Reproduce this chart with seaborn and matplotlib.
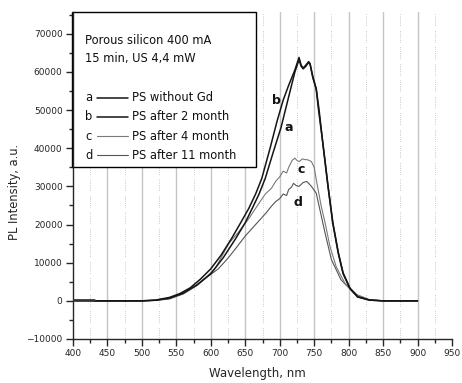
import matplotlib
matplotlib.use("Agg")
import matplotlib.pyplot as plt
import seaborn as sns
import numpy as np
import pandas as pd
from matplotlib.ticker import MultipleLocator
from matplotlib.patches import Rectangle

# ---- data ----
wl_a = [432, 500, 520, 540, 560, 580, 600, 618, 636, 650, 660, 670, 679, 691, 702, 713, 722, 728,
        731, 734, 738, 742, 744, 748, 753, 757, 763, 770, 777, 785, 792, 802, 813, 830, 850, 900]
int_a = [0, 0, 150, 700, 2000, 4200, 7100, 11300, 16300, 20500, 24200, 28000, 32100, 39200, 45500,
         53500, 60000, 63200, 61500, 60800, 61500, 62500, 62000, 58500, 55500, 50200, 40500, 30000,
         20300, 12400, 7100, 3200, 1000, 200, 0, 0]

wl_b = [432, 500, 520, 540, 555, 570, 585, 600, 615, 630, 645, 655, 665, 674, 686, 696, 705, 713,
        722, 728, 731, 734, 738, 742, 744, 748, 753, 756, 763, 770, 777, 785, 792, 802, 813, 830, 850, 900]
int_b = [0, 0, 200, 900, 1900, 3400, 5700, 8400, 12000, 16300, 21000, 24200, 28000, 32100, 40000,
         47000, 52600, 56500, 60500, 63800, 61800, 61000, 61800, 62700, 62200, 58800, 55500, 50500,
         40800, 30300, 20600, 12700, 7300, 3300, 1100, 200, 0, 0]

wl_c = [432, 500, 520, 540, 560, 580, 595, 607, 617, 626, 640, 655, 667, 679, 688, 694, 700, 705,
        710, 713, 718, 722, 725, 728, 733, 737, 740, 746, 750, 753, 760, 766, 773, 782, 795, 813, 830, 850, 900]
int_c = [0, 0, 150, 600, 2000, 4200, 6500, 8700, 12000, 15000, 18000, 21500, 24800, 28000, 29500,
         31300, 32500, 34000, 33500, 35000, 36800, 37400, 36800, 36500, 37200, 37000, 37000, 36500,
         35000, 31800, 25000, 20300, 14200, 8900, 4500, 1500, 300, 0, 0]

wl_d = [432, 500, 520, 540, 560, 580, 595, 611, 625, 636, 650, 665, 680, 688, 694, 700, 705, 710,
        713, 717, 720, 724, 728, 734, 739, 743, 746, 753, 760, 766, 775, 789, 809, 830, 850, 900]
int_d = [0, 0, 120, 500, 1800, 4000, 6300, 8400, 11200, 13700, 17000, 20000, 23000, 24800, 26000,
         26800, 28000, 27600, 29200, 29800, 30800, 30200, 30000, 31000, 31300, 30600, 30000, 28200,
         22500, 17600, 10800, 5500, 1800, 300, 0, 0]

base_wl = [400, 430]
base_int = [300, 300]

series_names = ["PS without Gd", "PS after 2 month", "PS after 4 month", "PS after 11 month"]
series_keys = ["a", "b", "c", "d"]
box_title = ["Porous silicon 400 mA", "15 min, US 4,4 mW"]

# ---- figure ----
sns.set_style("ticks")
plt.rcParams['font.family'] = ['DejaVu Sans']
fig = plt.figure(figsize=(4.62, 3.83), dpi=100)
L, R, T, B = 73, 452, 12, 339
ax = fig.add_axes([L/462, 1-B/383, (R-L)/462, (B-T)/383])

ax.set_xlim(400, 950)
ax.set_ylim(-10000, 75700)

# vertical grid lines
for x in range(450, 901, 50):
    ax.axvline(x, color='#c4c4c4', lw=1.0, zorder=0)
for x in range(425, 950, 50):
    ax.axvline(x, color='#9a9a9a', lw=0.6, zorder=0,
               dashes=[0.6, 1.6, 0.6, 1.6, 0.6, 1.6, 0.6, 1.6, 0.6, 1.6, 0.6, 1.6, 0.6, 6])

# legend box
box = Rectangle((398, 35000), 665-398, 75700-35000, facecolor='white',
                edgecolor='black', lw=1.0, zorder=2, clip_on=False)
ax.add_patch(box)

styles = {
    "a": dict(color='#151515', lw=1.1),
    "b": dict(color='#151515', lw=1.1),
    "c": dict(color='#7a7a7a', lw=0.8),
    "d": dict(color='#555555', lw=0.8),
}
data = {"a": (wl_a, int_a), "b": (wl_b, int_b), "c": (wl_c, int_c), "d": (wl_d, int_d)}
for k in ["d", "c", "a", "b"]:
    x, y = data[k]
    sns.lineplot(x=x, y=y, ax=ax, sort=False, estimator=None, zorder=3, **styles[k])
sns.lineplot(x=base_wl, y=base_int, ax=ax, color='#333333', lw=2.0, zorder=3, estimator=None)

# text inside box
fs = 8.3
ax.text(418, 68200, box_title[0], fontsize=fs, va='center', ha='left', zorder=4, color='#111111')
ax.text(418, 63400, box_title[1], fontsize=fs, va='center', ha='left', zorder=4, color='#111111')
row_y = [53200, 48200, 43200, 38200]
for k, name, yy in zip(series_keys, series_names, row_y):
    ax.text(418, yy, k, fontsize=fs, va='center', ha='left', zorder=4, color='#111111')
    ax.plot([435, 480], [yy, yy], zorder=4, **styles[k])
    ax.text(485, yy, name, fontsize=fs, va='center', ha='left', zorder=4, color='#111111')

# curve labels
lab_pos = {"b": (695, 52600), "a": (713, 45500), "c": (731, 34500), "d": (727, 25800)}
for k, (lx, ly) in lab_pos.items():
    ax.text(lx, ly, k, fontsize=9, fontweight='bold', ha='center', va='center',
            zorder=4, color='#111111')

# axes styling
ax.spines['top'].set_visible(False)
ax.spines['right'].set_visible(False)
ax.spines['left'].set_linewidth(1.0)
ax.spines['bottom'].set_linewidth(1.0)
ax.xaxis.set_major_locator(MultipleLocator(50))
ax.xaxis.set_minor_locator(MultipleLocator(25))
ax.set_yticks(list(range(-10000, 70001, 10000)))
ax.yaxis.set_minor_locator(MultipleLocator(5000))
ax.tick_params(which='major', length=5, width=1.0, labelsize=6.5, pad=2.5, direction='out')
ax.tick_params(which='minor', length=3, width=1.0, direction='out')
ax.set_xlabel("Wavelength, nm", fontsize=8.5)
ax.set_ylabel("PL Intensity, a.u.", fontsize=8.3)
ax.xaxis.set_label_coords((257-L)/(R-L), -0.104)
ax.xaxis.label.set_va('center')
ax.yaxis.set_label_coords(-(L-15)/(R-L), 0.45)
ax.yaxis.label.set_va('center')

fig.savefig("out.png", dpi=100)
